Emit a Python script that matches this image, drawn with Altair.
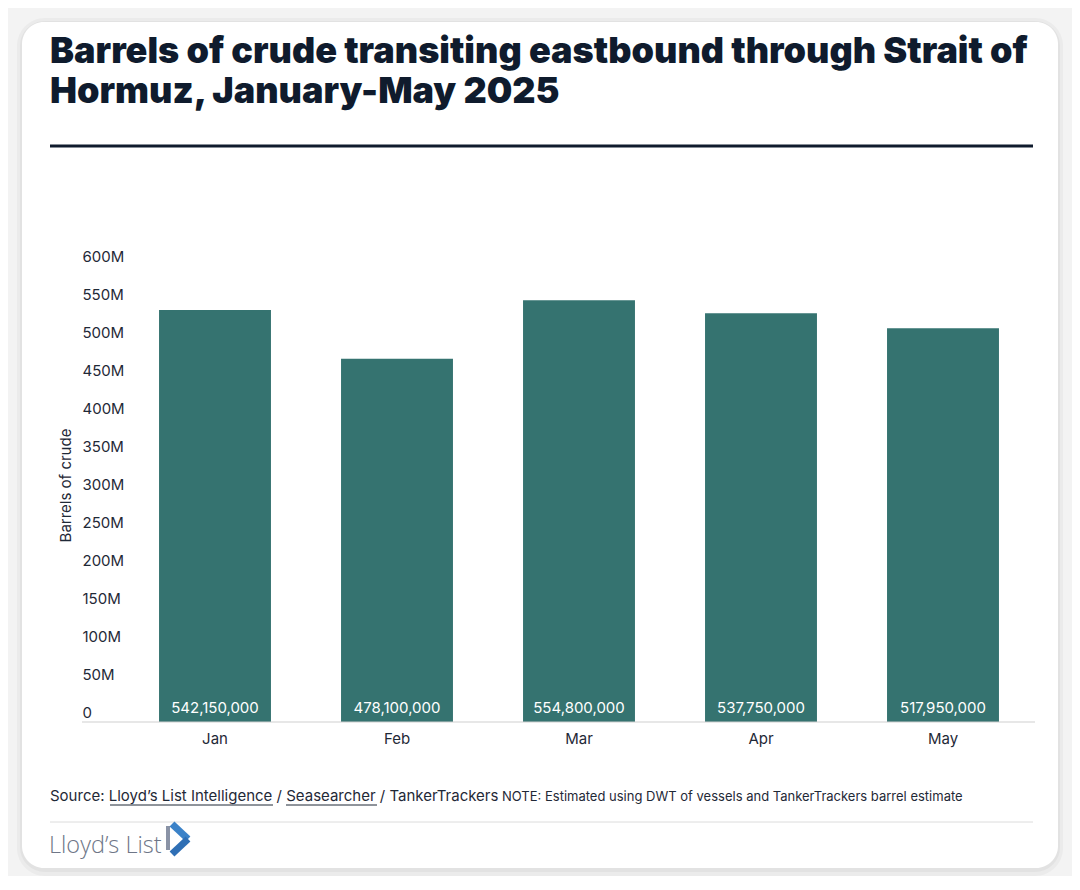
import altair as alt
import pandas as pd

months = ["Jan", "Feb", "Mar", "Apr", "May"]
barrels = [542150000, 478100000, 554800000, 537750000, 517950000]
y_ticks = [0, 50e6, 100e6, 150e6, 200e6, 250e6, 300e6, 350e6, 400e6, 450e6, 500e6, 550e6, 600e6]

title_lines = ["Barrels of crude transiting eastbound through Strait of",
               "Hormuz, January-May 2025"]
y_title = "Barrels of crude"
source_text = "Source: Lloyd\u2019s List Intelligence / Seasearcher / TankerTrackers"
note_text = "NOTE: Estimated using DWT of vessels and TankerTrackers barrel estimate"
logo_text = "Lloyd\u2019s List"

df = pd.DataFrame({"month": months, "value": barrels})

W, H = 910, 456
FONT = "Inter"
DARK = "#0f1b2d"
BAR = "#357370"

one = alt.Data(values=[{"k": 1}])


def rect(x, x2, y, y2, color, radius):
    return alt.Chart(one).mark_rect(color=color, cornerRadius=radius).encode(
        x=alt.value(x), x2=alt.value(x2), y=alt.value(y), y2=alt.value(y2))


def rule(x, x2, y, y2, color, width, cap="butt"):
    return alt.Chart(one).mark_rule(color=color, strokeWidth=width, strokeCap=cap).encode(
        x=alt.value(x), x2=alt.value(x2), y=alt.value(y), y2=alt.value(y2))


def text(s, x, y, size, weight="normal", color=DARK, font=FONT, line_height=None):
    kw = dict(align="left", baseline="alphabetic", fontSize=size, fontWeight=weight,
              color=color, font=font)
    if line_height is not None:
        kw["lineHeight"] = line_height
    return alt.Chart(one).mark_text(**kw).encode(
        x=alt.value(x), y=alt.value(y), text=alt.value(s))


shadow1 = rect(-107, 939, -248, 610, "#ebebeb", 28)
shadow2 = rect(-104, 936, -245, 606, "#e2e2e2", 25)
card = rect(-102, 934, -244, 602, "#ffffff", 22)

xenc = alt.X("month:N", sort=months,
             scale=alt.Scale(paddingInner=0.385, paddingOuter=0.1925),
             axis=alt.Axis(title=None, labelAngle=0, ticks=False, domain=False,
                           labelPadding=9, labelFontSize=15, labelColor="#1f2937",
                           labelFont=FONT, zindex=1))
yenc = alt.Y("value:Q", scale=alt.Scale(domain=[0, 600e6], nice=False),
             axis=alt.Axis(title=y_title, values=y_ticks, grid=False, ticks=False,
                           domain=False, labelAlign="left", labelPadding=42,
                           labelBaseline="alphabetic", labelOffset=-5,
                           labelFontSize=15, labelColor="#1f2937", labelFont=FONT,
                           labelExpr="datum.value == 0 ? '0' : (datum.value / 1e6) + 'M'",
                           titleFont=FONT, titleFontSize=15, titleFontWeight="normal",
                           titleColor="#1f2937", titleX=-59, titleY=219,
                           titleBaseline="middle", titleAlign="center", zindex=1))

bars = alt.Chart(df).mark_bar(color=BAR).encode(x=xenc, y=yenc)
labels = alt.Chart(df).mark_text(
    color="white", fontSize=15, font=FONT, baseline="alphabetic").encode(
    x=alt.X("month:N", sort=months), y=alt.value(447),
    text=alt.Text("value:Q", format=","))

baseline = rule(-42, 911, H, H, "#cfcfcf", 1)

title = text(title_lines, -74, -203, 36, 900, line_height=40)
top_rule = rule(-74, 909, -120, -120, DARK, 3)

src = text(source_text, -74, 535, 15, color="#1f2937")
note = text(note_text, 378, 535, 13, color="#1f2937")
ul1 = rule(-14, 149, 539, 539, "#1f2937", 1)
ul2 = rule(162, 253, 539, 539, "#1f2937", 1)
sep = rule(-74, 909, 556, 556, "#dcdcdc", 1)

logo = text(logo_text, -75, 587, 23.5, 300, "#6e7687", "Open Sans")
logo_bar = rule(44, 44, 560, 584, "#8a93a6", 4)
chev1 = rule(48, 64, 558, 573, "#3b82c8", 7)
chev2 = rule(64, 48, 573, 588, "#2f6fb5", 7)

chart = alt.layer(
    shadow1, shadow2, card, bars, labels, baseline, title, top_rule,
    src, note, ul1, ul2, sep, logo, logo_bar, chev1, chev2
).properties(
    width=W, height=H,
    autosize=alt.AutoSizeParams(type="none"),
    padding={"left": 116, "top": 258, "right": 38, "bottom": 154},
    background="#f3f3f3",
).configure_view(stroke=None)

chart.save("out.html", embed_options={"renderer": "svg", "actions": False})
